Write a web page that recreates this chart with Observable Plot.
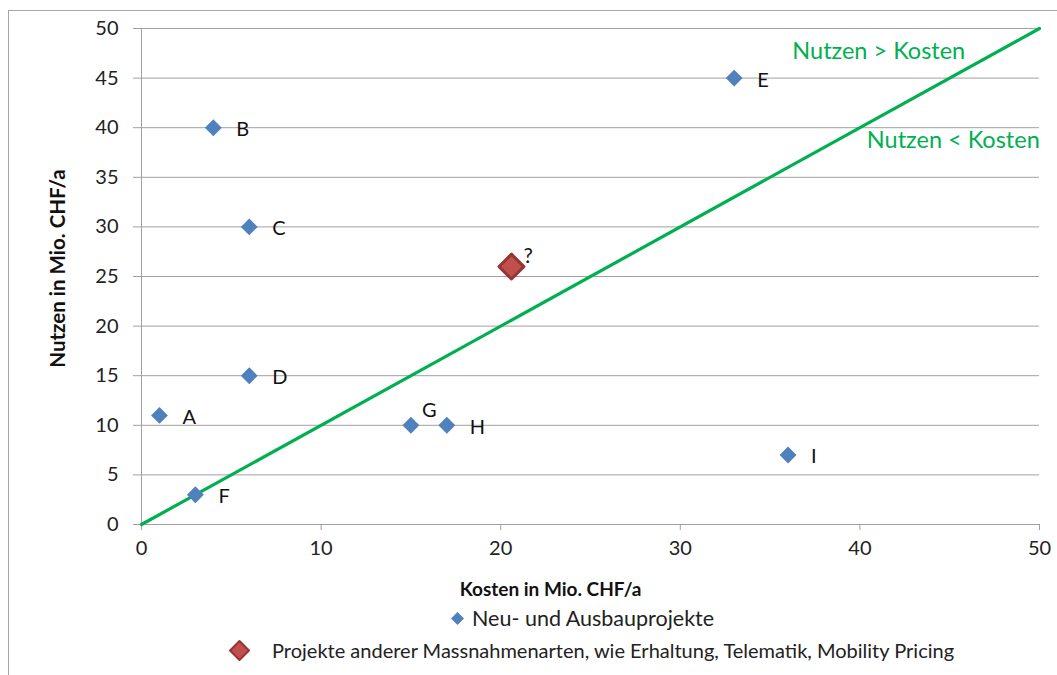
<!DOCTYPE html>
<html>
<head>
<meta charset="utf-8">
<script src="https://cdn.jsdelivr.net/npm/d3@7"></script>
<script src="https://cdn.jsdelivr.net/npm/@observablehq/plot@0.6"></script>
<style>
  body { margin: 0; background: #fff; font-family: Lato, "Open Sans", sans-serif; }
  #frame { position: absolute; left: 8px; top: 10px; width: 1100px; height: 700px; border-left: 1px solid #a6a6a6; border-top: 1px solid #a6a6a6; pointer-events: none; }
  #chart { position: absolute; left: 0; top: 0; }
  .legend { position: absolute; color: #222; display: flex; align-items: center; white-space: nowrap; line-height: 26px; height: 26px; }
  .legend svg { display: block; }
</style>
</head>
<body>
<div id="chart"></div>
<div id="frame"></div>
<div class="legend" id="leg1" style="top:605px; left:451px; font-size:21.5px;"></div>
<div class="legend" id="leg2" style="top:637px; left:228px; font-size:20px;"></div>
<script>
// Data
const projects = ["A", "B", "C", "D", "E", "F", "G", "H", "I"];
const kosten   = [1, 4, 6, 6, 33, 3, 15, 17, 36];
const nutzen   = [11, 40, 30, 15, 45, 3, 10, 10, 7];

const otherLabel  = ["?"];
const otherKosten = [20.6];
const otherNutzen = [26];

const diagX = [0, 50];
const diagY = [0, 50];

const regionText   = ["Nutzen > Kosten", "Nutzen < Kosten"];
const regionKosten = [41.05, 45.2];
const regionNutzen = [47.7, 38.7];

const xTicks = [0, 10, 20, 30, 40, 50];
const yTicks = [0, 5, 10, 15, 20, 25, 30, 35, 40, 45, 50];

const xTitle = "Kosten in Mio. CHF/a";
const yTitle = "Nutzen in Mio. CHF/a";
const seriesNames = ["Neu- und Ausbauprojekte", "Projekte anderer Massnahmenarten, wie Erhaltung, Telematik, Mobility Pricing"];

const blue = "#4f81bd", green = "#00b050", red = "#c0504d", redDark = "#943634";

const pts = projects.map((p, i) => ({p, x: kosten[i], y: nutzen[i]}));
const other = otherLabel.map((p, i) => ({p, x: otherKosten[i], y: otherNutzen[i]}));
const diag = diagX.map((x, i) => ({x, y: diagY[i]}));
const regions = regionText.map((t, i) => ({t, x: regionKosten[i], y: regionNutzen[i]}));

const chart = Plot.plot({
  width: 1057,
  height: 605,
  marginLeft: 141,
  marginRight: 18,
  marginTop: 28,
  marginBottom: 81,
  style: {fontFamily: "Lato, 'Open Sans', sans-serif", fontSize: "20px", color: "#222", background: "transparent"},
  x: {domain: [0, 50]},
  y: {domain: [0, 50]},
  marks: [
    Plot.gridY(yTicks.filter(d => d > 0), {stroke: "#a0a0a0", strokeOpacity: 1, strokeWidth: 1}),
    Plot.ruleX([0], {stroke: "#a0a0a0"}),
    Plot.ruleY([0], {stroke: "#a0a0a0"}),
    Plot.axisY({ticks: yTicks, tickSize: 8, tickPadding: 15, stroke: "#a0a0a0", fontSize: 20, fill: "#222", label: null}),
    Plot.axisX({ticks: xTicks, tickSize: 6, tickPadding: 10, stroke: "#a0a0a0", fontSize: 20, fill: "#222", label: null}),
    Plot.text([yTitle], {frameAnchor: "left", textAnchor: "middle", rotate: -90, dx: -83, dy: -8, fontSize: 20.5, fontWeight: "bold", fill: "#111"}),
    Plot.text([xTitle], {frameAnchor: "bottom", dx: -40, dy: 71, fontSize: 19, fontWeight: "bold", fill: "#111"}),
    Plot.line(diag, {x: "x", y: "y", stroke: green, strokeWidth: 3.2}),
    Plot.dot(pts, {x: "x", y: "y", symbol: "diamond2", r: 7.6, fill: blue, stroke: "none"}),
    Plot.dot(other, {x: "x", y: "y", symbol: "diamond2", r: 11.2, fill: red, stroke: redDark, strokeWidth: 3, strokeLinejoin: "round"}),
    Plot.text(pts.filter(d => d.p !== "G"), {x: "x", y: "y", text: "p", textAnchor: "start", dx: 23, dy: 2, fontSize: 20, fill: "#111"}),
    Plot.text(pts.filter(d => d.p === "G"), {x: "x", y: "y", text: "p", textAnchor: "start", dx: 11, dy: -15, fontSize: 20, fill: "#111"}),
    Plot.text(other, {x: "x", y: "y", text: "p", textAnchor: "start", dx: 12, dy: -10, fontSize: 21, fill: "#111"}),
    Plot.text(regions, {x: "x", y: "y", text: "t", textAnchor: "middle", fontSize: 23.5, fill: green})
  ]
});
document.getElementById("chart").appendChild(chart);

function diamond(size, fill, stroke, sw) {
  const h = size / 2;
  return `<svg width="${size + sw * 2}" height="${size + sw * 2}" viewBox="${-h - sw} ${-h - sw} ${size + sw * 2} ${size + sw * 2}"><path d="M0,${-h}L${h},0L0,${h}L${-h},0Z" fill="${fill}" stroke="${stroke}" stroke-width="${sw}" stroke-linejoin="round"/></svg>`;
}
document.getElementById("leg1").innerHTML = diamond(13, blue, "none", 0) + `<span style="margin-left:8px">${seriesNames[0]}</span>`;
document.getElementById("leg2").innerHTML = diamond(19, red, redDark, 2) + `<span style="margin-left:21px">${seriesNames[1]}</span>`;
</script>
</body>
</html>
